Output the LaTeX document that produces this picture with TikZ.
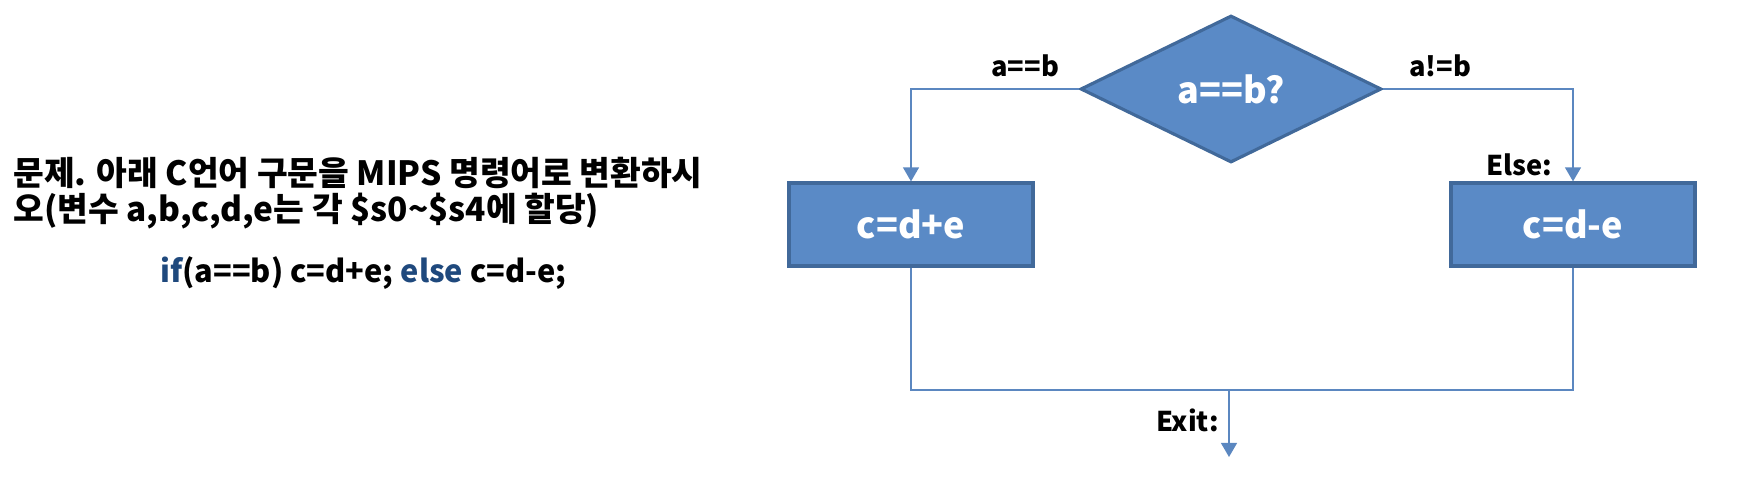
\documentclass[tikz,border=0pt]{standalone}
\usepackage{fontspec}
\setmainfont{Noto Sans CJK KR}
\usetikzlibrary{shapes,arrows.meta}

\definecolor{boxblue}{HTML}{5A8AC6}
\definecolor{boxedge}{HTML}{41699A}
\definecolor{lineblue}{HTML}{5B87C0}
\definecolor{kwblue}{HTML}{1F497D}

\begin{document}
\begin{tikzpicture}[x=0.02cm,y=-0.02cm,>={Triangle[width=9pt,length=8pt]}]
\tikzstyle{block} = [rectangle, draw=boxedge, line width=1.8pt, fill=boxblue, text=white, minimum width=4.88cm, minimum height=1.66cm, font=\fontsize{20.5}{24}\selectfont\bfseries]
\tikzstyle{decision} = [diamond, draw=boxedge, line width=1.8pt, fill=boxblue, text=white, inner sep=0pt, minimum width=6.02cm, minimum height=2.94cm, font=\fontsize{20.5}{24}\selectfont\bfseries]
\tikzstyle{flow} = [draw=lineblue, line width=1.1pt]
\tikzstyle{tag} = [font=\fontsize{15.5}{18}\selectfont\bfseries]
\tikzstyle{prose} = [font=\fontsize{19}{20.3}\selectfont\bfseries]
\useasboundingbox (0,0) rectangle (1738,484);

% question text
\node[prose,anchor=west,align=left,inner sep=0pt] (task) at (13,193) {문제. 아래 C언어 구문을 MIPS 명령어로 변환하시\\오(변수 a,b,c,d,e는 각 \$s0\textasciitilde\$s4에 할당)};
\node[prose,font=\fontsize{17.5}{20}\selectfont\bfseries,anchor=west,inner sep=0pt] (code) at (160,273) {\textcolor{kwblue}{if}(a==b) c=d+e; \textcolor{kwblue}{else} c=d-e;};

% flow chart
\node[decision] (cond) at (1231,89) {a==b?};
\node[block] (plus) at (911,224.5) {c=d+e};
\node[block] (minus) at (1573,224.5) {c=d-e};
\coordinate (join) at (1229,390);
\coordinate (exit) at (1229,457);

\draw[flow,->] (cond.west) -| node[tag,above=3pt,pos=0.16] (eqlabel) {a==b} (plus.north);
\draw[flow,->] (cond.east) -| node[tag,above=3pt,pos=0.15] (nelabel) {a!=b}
      node[tag,left=8pt,pos=0.91] (elselabel) {Else:} (minus.north);
\draw[flow] (plus.south) |- (join) -| (minus.south);
\draw[flow,->] (join) -- node[tag,left=2pt,pos=0.45] (exitlabel) {Exit:} (exit);
\end{tikzpicture}
\end{document}
